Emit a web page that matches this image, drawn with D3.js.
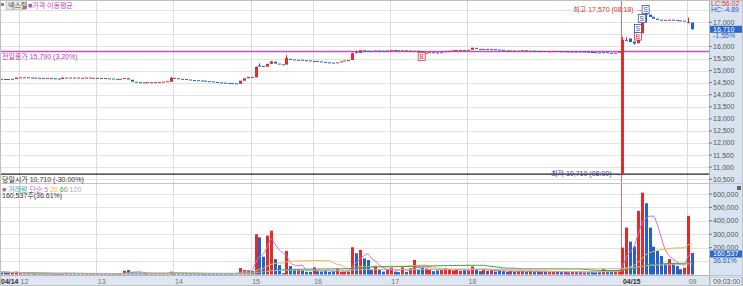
<!DOCTYPE html>
<html>
<head>
<meta charset="utf-8">
<script src="https://cdn.jsdelivr.net/npm/d3@7"></script>
<style>
body { margin: 0; background: #fff; }
svg { display: block; }
text { font-family: "Liberation Sans", "Noto Sans CJK KR", sans-serif; font-size: 7px; }
</style>
</head>
<body>
<script>
// ---- data ----
var stockName = "넥스틸";
var prevClose = 15790, prevCloseRate = "3.20%";
var dayOpen = 10710, dayOpenRate = "-30.00%";
var lastPrice = 16710, lastRate = "-1.55%";
var lastVolRate = "36.61%";
var lcText = "LC:56.02", hcText = "HC:-4.89";
var nowTime = "09:03:00";

// 3-minute bars: 04/14 11:45 ~ 19:57 (no bars 15:21~15:30), 04/15 08:00 ~ 08:48, 09:00, 09:03
var times = [];
(function() {
	function hhmm(m) { return d3.format("02")(Math.floor(m / 60)) + ":" + d3.format("02")(m % 60); }
	for (var m = 11 * 60 + 45; m < 20 * 60; m += 3) {
		if (m > 15 * 60 + 18 && m <= 15 * 60 + 30) continue;
		times.push("04/14 " + hhmm(m));
	}
	for (var m2 = 8 * 60; m2 <= 8 * 60 + 48; m2 += 3) times.push("04/15 " + hhmm(m2));
	times.push("04/15 09:00");
	times.push("04/15 09:03");
})();

var opens = [
	14660,14650,14640,14650,14650, 14710,14720,14720,14710,14710,14700,14700,14690,14690,14680,14670,14650,14710,14710,14700,14710,14700,14700,14710,14700,
	14700,14690,14690,14680,14670,14660,14650,14650,14680,14620,14540,14520,14510,14510,14520,14510,14520,14530,14540,14540,
	14700,14680,14660,14650,14630,14610,14600,14590,14580,14560,14550,14530,14510,14500,14490,14480,14470,14450,14580,14680,
	14740,14720,15210,15190,15160,15280,15370,15290,15260,15250,15480,15460,15440,15450,15430,15420,
	15380,15400,15380,15360,15340,15330,15320,15340,15380,15420,15440,15760,15730,15840,15820,15810,15800,15830,15820,15810,
	15830,15850,15840,15820,15840,15820,15780,15820,15790,15720,15740,15760,15750,15740,15760,15800,15820,15840,15850,15850,
	15840,15860,15940,15900,15880,15900,15880,15890,15870,15860,15830,15820,15830,15810,15820,15840,15810,15820,15810,15800,
	15810,15800,15800,15810,15800,15790,15800,15790,15790,15780,15790,15780,15770,15760,15750,15740,15760,15740,15730,15740,
	10710,16240,16330,16200,16130,16540,17450,17320,17230,17150,17110,17100,17080,17110,17100,17080,17050,16990,16990
];
var closes = [
	14650,14640,14650,14660,14710, 14720,14720,14710,14710,14700,14700,14690,14690,14680,14670,14660,14710,14710,14700,14710,14700,14700,14710,14700,14700,
	14690,14690,14680,14670,14660,14650,14660,14690,14630,14540,14520,14510,14510,14520,14510,14520,14530,14540,14560,14700,
	14680,14660,14650,14630,14610,14600,14590,14580,14560,14550,14530,14510,14500,14490,14480,14470,14460,14580,14680,14740,
	14730,15150,15170,15160,15280,15380,15290,15260,15250,15520,15440,15440,15450,15430,15420,15410,
	15400,15380,15360,15340,15330,15320,15340,15380,15420,15440,15720,15730,15840,15820,15800,15800,15830,15820,15810,15830,
	15850,15840,15820,15840,15820,15830,15820,15790,15720,15740,15760,15750,15740,15760,15800,15820,15840,15850,15850,15840,
	15860,15950,15900,15880,15900,15880,15890,15870,15860,15830,15820,15830,15810,15820,15840,15810,15820,15810,15800,15810,
	15800,15800,15810,15800,15790,15800,15790,15790,15780,15790,15780,15770,15760,15750,15740,15760,15740,15730,15740,15790,
	16270,16260,16180,16120,16540,16970,17320,17220,17150,17100,17090,17080,17110,17090,17080,17060,17070,17010,16710
];
// [bar, high, low] where the wick goes past the body
var wicks = [
	[44,14730,14540],[66,15180,14720],[67,15300,15160],[70,15400,15280],[74,15640,15250],
	[91,15740,15440],[92,15810,15720],[161,16400,10710],[162,16380,16240],[164,16200,16080],
	[167,17570,16980],[178,17200,16960],[179,16990,16700]
];
// volume, thousand shares
var volumeK = [
	18,16,14,12,20, 9,7,6,5,6,5,4,3,5,4,5,6,12,8,6,5,4,6,8,5,
	5,4,6,5,4,5,6,28,33,14,12,10,8,6,7,8,6,9,10,21,
	8,7,6,6,5,6,5,4,6,5,7,6,5,6,7,8,10,48,33,30,
	25,300,277,133,290,327,115,70,10,175,63,39,41,33,21,20,
	53,24,22,25,20,24,41,18,20,22,203,158,183,120,108,33,65,33,22,41,
	51,22,18,53,20,47,108,33,50,45,40,25,30,35,48,42,30,38,28,32,
	30,60,35,25,40,28,32,22,30,25,20,28,22,25,26,20,24,18,22,20,
	22,18,20,25,18,20,16,22,18,20,15,18,22,16,20,40,18,22,28,34,
	200,350,245,208,474,610,531,350,207,175,138,78,115,83,63,39,51,437,160.537
];
var maPeriods = [5, 20, 60, 120];
var maColors = ["#d46ad4", "#f2b64a", "#3f9f4a", "#b4b4b4"];

var signals = [
	{ t: "04/14 17:24", p: 15590, s: "B" },
	{ t: "04/15 08:12", p: 16430, s: "B" },
	{ t: "04/15 08:12", p: 16740, s: "S" },
	{ t: "04/15 08:15", p: 17160, s: "S" },
	{ t: "04/15 08:18", p: 17530, s: "S" }
];

var tickTimes = ["04/14 12:00","04/14 13:00","04/14 14:00","04/14 15:00","04/14 16:00","04/14 17:00","04/14 18:00","04/15 08:00","04/15 09:00"];
var tickLabels = ["12","13","14","15","16","17","18","04/15","09"];
var priceTicks = d3.range(10500, 18000, 500);
var volTicks = [100000, 200000, 300000, 400000, 500000, 600000];

// ---- chart ----
var W = 743, H = 286, plotR = 709;
var RED = "#e22b2b", BLUE = "#2461c8";
var n = times.length;

var svg = d3.select("body").append("svg").attr("width", W).attr("height", H);

var x = d3.scaleLinear().domain([0, n - 1]).range([0.7, 0.7 + 3.862 * (n - 1)]);
var y = d3.scaleLinear().domain([10500, 17000]).range([179.2, 22.3]);
var yv = d3.scaleLinear().domain([0, 600]).range([274.5, 194]);
var idx = function(t) { return times.indexOf(t); };
var fmt = d3.format(",");

svg.append("defs").append("clipPath").attr("id", "pc")
	.append("rect").attr("x", 0).attr("y", 0).attr("width", plotR).attr("height", 183);
svg.append("defs").append("clipPath").attr("id", "vc")
	.append("rect").attr("x", 0).attr("y", 184).attr("width", plotR).attr("height", 91);

// grid
svg.append("g").selectAll("line").data(priceTicks).enter().append("line")
	.attr("x1", 0).attr("x2", plotR).attr("y1", function(d) { return Math.round(y(d)) + 0.5; }).attr("y2", function(d) { return Math.round(y(d)) + 0.5; })
	.attr("stroke", "#e3e3e3");
svg.append("g").selectAll("line").data(volTicks).enter().append("line")
	.attr("x1", 0).attr("x2", plotR).attr("y1", function(d) { return Math.round(yv(d / 1000)) + 0.5; }).attr("y2", function(d) { return Math.round(yv(d / 1000)) + 0.5; })
	.attr("stroke", "#e3e3e3");
svg.append("g").selectAll("line").data(tickTimes).enter().append("line")
	.attr("x1", function(d) { return Math.round(x(idx(d)) - 1) + 0.5; })
	.attr("x2", function(d) { return Math.round(x(idx(d)) - 1) + 0.5; })
	.attr("y1", 0).attr("y2", 275)
	.attr("stroke", function(d) { return d === "04/15 08:00" ? "#e07070" : "#dcdcdc"; });

svg.append("line").attr("x1", 0).attr("x2", plotR).attr("y1", 183.5).attr("y2", 183.5).attr("stroke", "#c4c4c4");

// reference lines
svg.append("line").attr("x1", 0).attr("x2", plotR).attr("y1", y(prevClose)).attr("y2", y(prevClose))
	.attr("stroke", "#c64fc6").attr("stroke-width", 1.6);
svg.append("line").attr("x1", 0).attr("x2", plotR).attr("y1", y(dayOpen)).attr("y2", y(dayOpen))
	.attr("stroke", "#222").attr("stroke-width", 1.3);

// candles
var bars = d3.range(n).map(function(i) {
	var w = wicks.find(function(d) { return d[0] === i; });
	return {
		i: i, o: opens[i], c: closes[i], v: volumeK[i],
		h: w ? w[1] : Math.max(opens[i], closes[i]),
		l: w ? w[2] : Math.min(opens[i], closes[i]),
		up: closes[i] >= opens[i]
	};
});

var pg = svg.append("g").attr("clip-path", "url(#pc)");
pg.selectAll("line.wick").data(bars.filter(function(d) { return d.h > Math.max(d.o, d.c) || d.l < Math.min(d.o, d.c); }))
	.enter().append("line").attr("class", "wick")
	.attr("x1", function(d) { return Math.round(x(d.i)) + 0.5; }).attr("x2", function(d) { return Math.round(x(d.i)) + 0.5; })
	.attr("y1", function(d) { return y(d.h); }).attr("y2", function(d) { return y(d.l); })
	.attr("stroke", function(d) { return d.up ? RED : BLUE; });
pg.selectAll("rect.body").data(bars).enter().append("rect").attr("class", "body")
	.attr("x", function(d) { return Math.round(x(d.i)) - 1; })
	.attr("width", 3)
	.attr("y", function(d) { return y(Math.max(d.o, d.c)); })
	.attr("height", function(d) { return Math.max(1, y(Math.min(d.o, d.c)) - y(Math.max(d.o, d.c))); })
	.attr("fill", function(d) { return d.up ? RED : BLUE; });

// volume
var vg = svg.append("g").attr("clip-path", "url(#vc)");
vg.selectAll("rect").data(bars).enter().append("rect")
	.attr("x", function(d) { return Math.round(x(d.i)) - 1; })
	.attr("width", 3)
	.attr("y", function(d) { return yv(d.v); })
	.attr("height", function(d) { return yv(0) - yv(d.v); })
	.attr("fill", function(d) { return d.up ? RED : BLUE; });

maPeriods.forEach(function(p, k) {
	var ma = bars.map(function(d) { return d3.mean(volumeK.slice(Math.max(0, d.i - p + 1), d.i + 1)); });
	vg.append("path").datum(ma)
		.attr("fill", "none").attr("stroke", maColors[k]).attr("stroke-width", 1)
		.attr("d", d3.line().x(function(d, i) { return x(i); }).y(function(d) { return yv(d); }).curve(d3.curveMonotoneX));
});

// signal markers
var sg = svg.append("g").selectAll("g").data(signals).enter().append("g")
	.attr("transform", function(d) { return "translate(" + (x(idx(d.t)) - 3.5) + "," + (y(d.p) - 4) + ")"; });
sg.append("rect").attr("width", 7).attr("height", 8).attr("fill", "#fff")
	.attr("stroke", function(d) { return d.s === "B" ? RED : "#3b4fb0"; }).attr("stroke-width", 0.8);
sg.append("text").attr("x", 3.5).attr("y", 6.5).attr("text-anchor", "middle").style("font-size", "6.5px")
	.attr("fill", function(d) { return d.s === "B" ? RED : "#3b4fb0"; })
	.text(function(d) { return d.s; });

// high / low notes
var hi = bars.reduce(function(a, b) { return b.h > a.h ? b : a; });
var lo = bars.reduce(function(a, b) { return b.l < a.l ? b : a; });
svg.append("text").attr("x", x(hi.i) - 3).attr("y", y(hi.h) + 3).attr("text-anchor", "end").attr("fill", "#d83a3a")
	.text("최고 " + fmt(hi.h) + " (" + times[hi.i].slice(6) + ") →");
svg.append("text").attr("x", x(lo.i) - 2).attr("y", y(lo.l) + 1.5).attr("text-anchor", "end").attr("fill", "#3a3a9c")
	.text("최저 " + fmt(lo.l) + " (" + times[lo.i].slice(6) + ") →");

svg.append("text").attr("x", 2).attr("y", y(prevClose) + 7).attr("fill", "#b441b4")
	.text("전일종가 " + fmt(prevClose) + " (" + prevCloseRate + ")");
svg.append("text").attr("x", 2).attr("y", y(dayOpen) + 7.5).attr("fill", "#333")
	.text("당일시가 " + fmt(dayOpen) + " (" + dayOpenRate + ")");

// legends
svg.append("rect").attr("x", 1).attr("y", 3).attr("width", 3).attr("height", 3).attr("fill", "#888");
svg.append("rect").attr("x", 6).attr("y", 0.5).attr("width", 20).attr("height", 9).attr("fill", "#e6e6e6").attr("stroke", "#b0b0b0").attr("stroke-width", 0.6);
svg.append("text").attr("x", 8).attr("y", 7.5).attr("fill", "#444").text(stockName);
svg.append("text").attr("x", 28).attr("y", 7.5).attr("fill", "#c045c0").text("■가격 이동평균");

var lg = svg.append("text").attr("x", 2).attr("y", 191.5);
lg.append("tspan").attr("fill", "#888").text("■ ");
lg.append("tspan").attr("fill", "#36a3c2").text("거래량 ");
lg.append("tspan").attr("fill", maColors[0]).text("단순 5 ");
lg.append("tspan").attr("fill", maColors[1]).text("20 ");
lg.append("tspan").attr("fill", maColors[2]).text("60 ");
lg.append("tspan").attr("fill", "#aaa").text("120");
svg.append("text").attr("x", 2).attr("y", 197.5).attr("fill", "#333")
	.text(fmt(Math.round(volumeK[n - 1] * 1000)) + "주(" + lastVolRate + ")");

// x axis band
svg.append("rect").attr("x", 0).attr("y", 275).attr("width", plotR).attr("height", 11).attr("fill", "#dde6f1");
svg.append("line").attr("x1", 0).attr("x2", plotR).attr("y1", 275.5).attr("y2", 275.5).attr("stroke", "#aab8c8");
svg.append("text").attr("x", 1).attr("y", 284).attr("fill", "#333").style("font-weight", "bold").text("04/14");
svg.append("g").selectAll("text").data(tickTimes).enter().append("text")
	.attr("x", function(d) { return x(idx(d)) + 0.5; }).attr("y", 284)
	.attr("fill", function(d, i) { return tickLabels[i].length > 2 ? "#333" : "#777"; })
	.style("font-weight", function(d, i) { return tickLabels[i].length > 2 ? "bold" : "normal"; })
	.text(function(d, i) { return tickLabels[i]; });

// right axis panel
svg.append("rect").attr("x", plotR).attr("y", 0).attr("width", W - plotR).attr("height", H).attr("fill", "#d8e3ef");
svg.append("line").attr("x1", plotR + 0.5).attr("x2", plotR + 0.5).attr("y1", 0).attr("y2", H).attr("stroke", "#a9b9cb");
svg.append("line").attr("x1", plotR).attr("x2", W).attr("y1", 183.5).attr("y2", 183.5).attr("stroke", "#b8c6d6");
svg.append("line").attr("x1", plotR).attr("x2", W).attr("y1", 275.5).attr("y2", 275.5).attr("stroke", "#b8c6d6");

var hidden = [16500, 17500, 100000];
var ra = svg.append("g");
priceTicks.filter(function(d) { return hidden.indexOf(d) < 0; }).forEach(function(d) {
	ra.append("line").attr("x1", plotR).attr("x2", plotR + 3).attr("y1", y(d)).attr("y2", y(d)).attr("stroke", "#777");
	ra.append("text").attr("x", plotR + 4).attr("y", y(d) + 2.5).attr("fill", "#555").text(fmt(d));
});
volTicks.filter(function(d) { return hidden.indexOf(d) < 0; }).forEach(function(d) {
	ra.append("line").attr("x1", plotR).attr("x2", plotR + 3).attr("y1", yv(d / 1000)).attr("y2", yv(d / 1000)).attr("stroke", "#777");
	ra.append("text").attr("x", plotR + 4).attr("y", yv(d / 1000) + 2.5).attr("fill", "#555").text(fmt(d));
});

svg.append("text").attr("x", plotR + 2).attr("y", 6).attr("fill", "#d83a3a").text(lcText);
svg.append("text").attr("x", plotR + 2).attr("y", 12).attr("fill", "#2f5fc0").text(hcText);

svg.append("rect").attr("x", plotR + 1).attr("y", y(lastPrice) - 3.5).attr("width", W - plotR - 1).attr("height", 7).attr("fill", "#2c68cc");
svg.append("text").attr("x", plotR + 4).attr("y", y(lastPrice) + 2.5).attr("fill", "#fff").text(fmt(lastPrice));
svg.append("text").attr("x", plotR + 4).attr("y", y(lastPrice) + 9).attr("fill", "#2f5fc0").text(lastRate);

svg.append("rect").attr("x", 737).attr("y", 186).attr("width", 4).attr("height", 4).attr("fill", "#666");
var vLast = volumeK[n - 1];
var vy = yv(vLast) + 1;
svg.append("rect").attr("x", plotR + 1).attr("y", vy - 3.5).attr("width", W - plotR - 1).attr("height", 7).attr("fill", "#2c68cc");
svg.append("text").attr("x", plotR + 4).attr("y", vy + 2.5).attr("fill", "#fff").text(fmt(Math.round(vLast * 1000)));
svg.append("text").attr("x", plotR + 4).attr("y", vy + 9).attr("fill", "#2f5fc0").text(lastVolRate);

svg.append("rect").attr("x", plotR + 1.5).attr("y", 277.5).attr("width", W - plotR - 3).attr("height", 8).attr("fill", "#e4ecf5").attr("stroke", "#b0bfd0").attr("stroke-width", 0.6);
svg.append("text").attr("x", plotR + 4).attr("y", 284).attr("fill", "#555").text(nowTime);

svg.append("rect").attr("x", 0.5).attr("y", 0.5).attr("width", W - 1).attr("height", H - 1).attr("fill", "none").attr("stroke", "#c0c0c0");
</script>
</body>
</html>
